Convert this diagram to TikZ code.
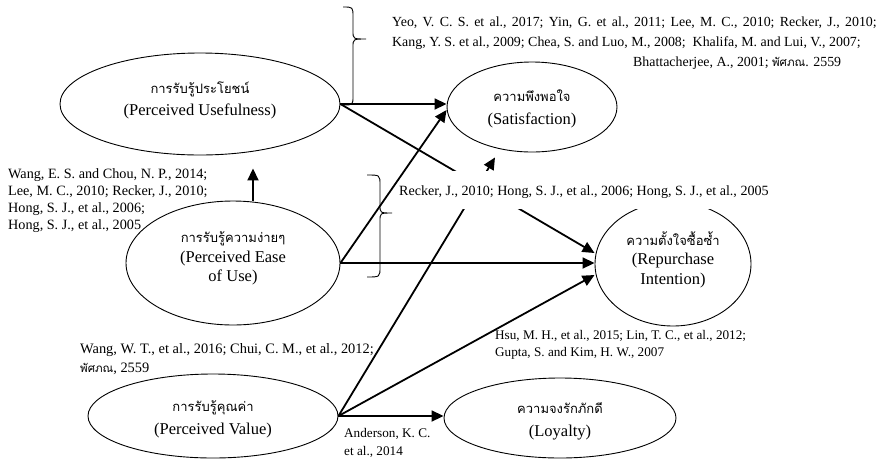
\documentclass[tikz,border=0pt]{standalone}
\usepackage{fontspec}
\setmainfont{Liberation Serif}
\newfontfamily\thaifont[Script=Thai]{Loma}
\usetikzlibrary{arrows.meta,shapes.geometric,calc}

% Thai caption line inside a construct
\newcommand{\thline}[1]{{\thaifont\fontsize{13}{21}\selectfont #1}}
% Thai author name inside a reference list
\newcommand{\thname}[1]{{\thaifont\fontsize{11.5}{14}\selectfont #1}}

\begin{document}
\begin{tikzpicture}[x=1pt,y=-1pt,
  concept/.style={ellipse, draw, line width=0.9pt, inner sep=0pt, align=center,
    font=\fontsize{16.5}{22}\selectfont},
  conn/.style={line width=1.8pt, -{Triangle[length=12pt,width=11pt]}},
  brace/.style={line width=0.9pt},
  cite/.style={inner sep=0pt, align=left, anchor=north west}
]
\useasboundingbox (0,0) rectangle (876,459);

% constructs
\node[concept, minimum width=280pt, minimum height=102pt] (pu) at (200,104)
  {\thline{การรับรู้ประโยชน์}\\(Perceived Usefulness)\rule[-10pt]{0pt}{0pt}};
\node[concept, minimum width=170pt, minimum height=90pt,
  font=\fontsize{16.5}{23}\selectfont] (sat) at (532,107)
  {\rule{0pt}{16pt}\thline{ความพึงพอใจ}\\(Satisfaction)};
\node[concept, minimum width=214pt, minimum height=124pt,
  font=\fontsize{16.5}{19.5}\selectfont] (ease) at (233,263)
  {\thline{การรับรู้ความง่ายๆ}\\(Perceived Ease\\of Use)\rule[-12pt]{0pt}{0pt}};
\node[concept, minimum width=156pt, minimum height=124pt,
  font=\fontsize{16.5}{19.5}\selectfont] (rep) at (673,264)
  {\thline{ความตั้งใจซื้อซ้ำ}\\(Repurchase\\Intention)\rule[-12pt]{0pt}{0pt}};
\node[concept, minimum width=250pt, minimum height=84pt,
  font=\fontsize{16.5}{23}\selectfont] (pv) at (213,416)
  {\rule{0pt}{18pt}\thline{การรับรู้คุณค่า}\\(Perceived Value)};
\node[concept, minimum width=232pt, minimum height=80pt,
  font=\fontsize{16.5}{23}\selectfont] (loy) at (560,418)
  {\rule{0pt}{17pt}\thline{ความจงรักภักดี}\\(Loyalty)};

% curly braces grouping the references
\draw[brace] (343,7) .. controls (353,7) .. (353,17) -- (353,31)
  .. controls (353,39) .. (366,39) .. controls (353,39) .. (353,47)
  -- (353,96) .. controls (353,105) .. (343,105);
\draw[brace] (367,175) .. controls (380,175) .. (380,185) -- (380,205)
  .. controls (380,213) .. (392,213) .. controls (380,213) .. (380,221)
  -- (380,267) .. controls (380,277) .. (367,277);

% paths passing behind the central reference label
\draw[conn] (pu.east) -- ([yshift=11pt]rep.west);
\draw[conn] (pv.east) -- ([xshift=-37pt,yshift=-5pt]sat.south);

\node[fill=white, inner xsep=1pt, inner ysep=0pt, text height=24.5pt, text depth=13.5pt,
  anchor=base west, font=\fontsize{14.1}{17}\selectfont] (refmid) at (398,195)
  {Recker, J., 2010; Hong, S. J., et al., 2006; Hong, S. J., et al., 2005};

% remaining paths
\draw[conn] (pu.east) -- (pu.east -| sat.west);
\draw[conn] (ease.east) -- ([yshift=-3pt]sat.west);
\draw[conn] (ease.east) -- (ease.east -| rep.west);
\draw[conn] ([xshift=20pt]ease.north) -- ([xshift=53pt,yshift=-13pt]pu.south);
\draw[conn] (pv.east) -- ([yshift=-11pt]rep.west);
\draw[conn] (pv.east) -- (pv.east -| loy.west);

% reference labels
\node[cite, font=\fontsize{13.9}{20}\selectfont] (reftop) at (392,17)
  {{\spaceskip=5.3pt plus 1pt\relax Yeo, V. C. S. et al., 2017; Yin, G. et al., 2011; Lee, M. C., 2010; Recker, J., 2010;}\\
   Kang, Y. S. et al., 2009; Chea, S. and Luo, M., 2008;\ \ Khalifa, M. and Lui, V., 2007;\\
   \hspace*{241pt}Bhattacherjee, A., 2001; \thname{พัศภณ}. 2559};
\node[cite, font=\fontsize{14.2}{17.3}\selectfont] (refease) at (8,168)
  {Wang, E. S. and Chou, N. P., 2014;\\
   Lee, M. C., 2010; Recker, J., 2010;\\
   Hong, S. J., et al., 2006;\\
   Hong, S. J., et al., 2005};
\node[cite, font=\fontsize{14.4}{19.5}\selectfont] (refvalue) at (80,343)
  {Wang, W. T., et al., 2016; Chui, C. M., et al., 2012;\\
   \thname{พัศภณ}, 2559};
\node[cite, font=\fontsize{13.2}{16.7}\selectfont] (refrep) at (495,330.4)
  {Hsu, M. H., et al., 2015; Lin, T. C., et al., 2012;\\
   Gupta, S. and Kim, H. W., 2007};
\node[cite, font=\fontsize{13.2}{18}\selectfont] (refloy) at (344,428.4)
  {Anderson, K. C.\\et al., 2014};
\end{tikzpicture}
\end{document}
